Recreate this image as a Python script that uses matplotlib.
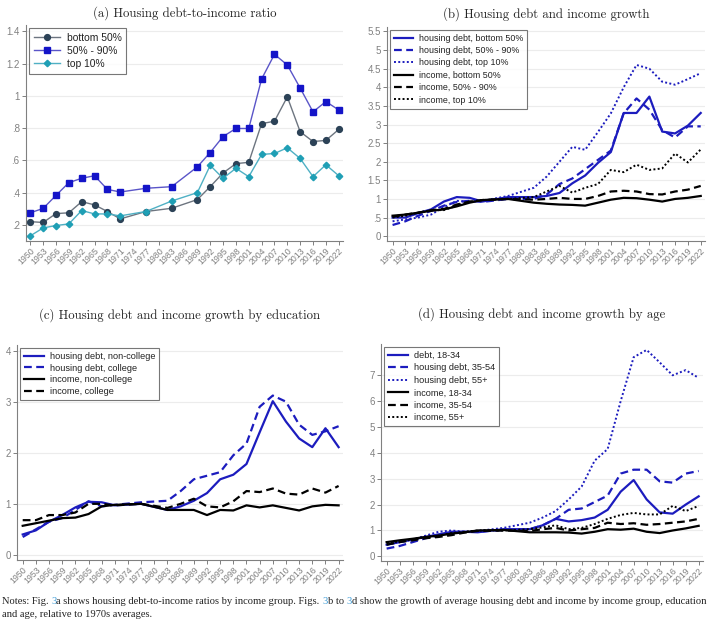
import matplotlib
matplotlib.use("Agg")
import matplotlib.pyplot as plt

# survey years
years_a = [1950, 1953, 1956, 1959, 1962, 1965, 1968, 1971, 1977, 1983, 1989,
           1992, 1995, 1998, 2001, 2004, 2007, 2010, 2013, 2016, 2019, 2022]
years = [1950, 1953, 1956, 1959, 1962, 1965, 1968, 1971, 1977, 1983, 1986, 1989,
         1992, 1995, 1998, 2001, 2004, 2007, 2010, 2013, 2016, 2019, 2022]
tick_years = list(range(1950, 2023, 3))

# (a) debt-to-income ratio
ratio_bottom50 = [0.22, 0.215, 0.27, 0.275, 0.344, 0.324, 0.283, 0.237, 0.283, 0.303, 0.357,
                  0.437, 0.522, 0.58, 0.588, 0.828, 0.843, 0.994, 0.778, 0.717, 0.724, 0.792]
ratio_mid40 = [0.275, 0.302, 0.383, 0.462, 0.489, 0.505, 0.42, 0.404, 0.427, 0.437, 0.56,
               0.649, 0.748, 0.798, 0.798, 1.105, 1.258, 1.192, 1.049, 0.901, 0.965, 0.913]
ratio_top10 = [0.132, 0.181, 0.196, 0.206, 0.289, 0.268, 0.268, 0.256, 0.283, 0.348, 0.4,
               0.569, 0.489, 0.551, 0.499, 0.637, 0.643, 0.678, 0.612, 0.499, 0.573, 0.505]

# (b) by income group
debt_b50 = [0.5, 0.5, 0.62, 0.72, 0.93, 1.05, 1.03, 0.93, 1.05, 1.05, 1.08, 1.16,
            1.42, 1.63, 1.97, 2.26, 3.31, 3.31, 3.75, 2.81, 2.76, 2.97, 3.31]
debt_m40 = [0.3, 0.4, 0.55, 0.68, 0.82, 0.92, 0.95, 0.92, 1.0, 1.0, 1.12, 1.4,
            1.55, 1.8, 2.05, 2.3, 3.3, 3.7, 3.4, 2.85, 2.65, 2.95, 2.95]
debt_t10 = [0.4, 0.45, 0.5, 0.58, 0.78, 0.95, 0.92, 0.95, 1.08, 1.3, 1.6, 2.0,
            2.4, 2.32, 2.8, 3.3, 4.0, 4.6, 4.5, 4.15, 4.07, 4.22, 4.38]
inc_b50 = [0.55, 0.58, 0.63, 0.68, 0.72, 0.8, 0.9, 0.97, 1.0, 0.9, 0.87, 0.85,
           0.84, 0.82, 0.9, 0.98, 1.03, 1.02, 0.98, 0.93, 1.0, 1.03, 1.08]
inc_m40 = [0.52, 0.58, 0.63, 0.7, 0.73, 0.85, 0.93, 0.97, 1.0, 0.98, 1.0, 1.03,
           1.0, 1.0, 1.08, 1.2, 1.22, 1.2, 1.13, 1.12, 1.2, 1.25, 1.35]
inc_t10 = [0.5, 0.55, 0.63, 0.7, 0.7, 0.82, 0.93, 0.97, 1.0, 1.05, 1.2, 1.35,
           1.17, 1.3, 1.4, 1.78, 1.72, 1.92, 1.78, 1.82, 2.22, 1.98, 2.33]

# (c) by education
debt_noncol = [0.4, 0.48, 0.65, 0.78, 0.93, 1.04, 1.03, 0.97, 1.0, 0.88, 0.95, 1.06,
               1.21, 1.48, 1.57, 1.78, 2.4, 3.01, 2.61, 2.28, 2.11, 2.48, 2.11]
debt_col = [0.35, 0.5, 0.65, 0.72, 0.88, 1.05, 0.95, 0.98, 1.03, 1.06, 1.25, 1.48,
            1.55, 1.62, 1.95, 2.18, 2.9, 3.12, 3.0, 2.55, 2.35, 2.42, 2.52]
inc_noncol = [0.57, 0.62, 0.67, 0.72, 0.73, 0.8, 0.95, 0.98, 1.0, 0.88, 0.88, 0.88,
              0.78, 0.88, 0.87, 0.97, 0.93, 0.97, 0.92, 0.87, 0.95, 0.98, 0.97]
inc_col = [0.68, 0.68, 0.78, 0.78, 0.83, 1.0, 1.0, 0.97, 1.0, 0.92, 1.0, 1.1,
           0.95, 0.93, 1.05, 1.25, 1.23, 1.3, 1.2, 1.18, 1.3, 1.22, 1.35]

# (d) by age
debt_young = [0.45, 0.55, 0.65, 0.75, 0.85, 0.95, 0.95, 0.93, 1.05, 1.05, 1.2, 1.45,
              1.35, 1.4, 1.5, 1.8, 2.5, 2.95, 2.2, 1.7, 1.65, 2.0, 2.32]
debt_mid = [0.3, 0.4, 0.55, 0.7, 0.8, 0.92, 0.95, 0.95, 1.02, 1.05, 1.2, 1.45,
            1.8, 1.85, 2.1, 2.35, 3.2, 3.35, 3.35, 2.9, 2.85, 3.2, 3.3]
debt_old = [0.45, 0.55, 0.65, 0.8, 0.95, 1.0, 0.95, 0.98, 1.1, 1.3, 1.5, 1.75,
            2.2, 2.7, 3.7, 4.15, 6.0, 7.7, 7.98, 7.5, 7.0, 7.2, 6.9]
inc_young = [0.55, 0.62, 0.68, 0.75, 0.8, 0.88, 0.93, 1.0, 1.02, 0.93, 0.93, 0.93,
             0.92, 0.88, 0.95, 1.05, 1.03, 1.07, 0.95, 0.9, 1.0, 1.08, 1.18]
inc_mid = [0.45, 0.55, 0.62, 0.7, 0.75, 0.82, 0.92, 0.98, 1.0, 0.98, 1.05, 1.1,
           1.0, 1.05, 1.1, 1.3, 1.25, 1.28, 1.22, 1.25, 1.3, 1.35, 1.45]
inc_old = [0.5, 0.58, 0.65, 0.75, 0.8, 0.9, 0.95, 1.0, 1.0, 1.05, 1.12, 1.2,
           1.05, 1.1, 1.25, 1.45, 1.6, 1.68, 1.62, 1.62, 1.95, 1.75, 1.95]

BLUE = '#1c1cbe'
BLACK = '#000000'
SANS = 'Liberation Sans'
TICKC = '#3a3a3a'
DASH = (0, (3.5, 2))
DOT = (0, (1, 1.2))


def fmt(v):
    s = ('%g' % v)
    if s.startswith('0.'):
        s = s[1:]
    return s


def style_axes(ax, yticks, ylim, title, pad):
    ax.set_xlim(1948.7, 2023)
    ax.set_ylim(*ylim)
    ax.set_xticks(tick_years)
    ax.set_xticklabels([str(y) for y in tick_years], rotation=45, ha='right',
                       rotation_mode='anchor', fontsize=6.3, family=SANS, color=TICKC)
    ax.set_yticks(yticks)
    ax.set_yticklabels([fmt(v) for v in yticks], fontsize=7, family=SANS, color=TICKC)
    for s in ['top', 'right']:
        ax.spines[s].set_visible(False)
    for s in ['left', 'bottom']:
        ax.spines[s].set_color('#808080')
        ax.spines[s].set_linewidth(0.8)
    ax.tick_params(colors='#808080', length=3, width=0.7, pad=1.5)
    ax.tick_params(axis='x', pad=1)
    ax.grid(axis='y', color='#ececec', linewidth=0.8)
    ax.set_axisbelow(True)
    ax.set_title(title, family='cmr10', fontsize=9.2, color='#222222', pad=pad)


def add_legend(ax, handlelength=2.2, fontsize=6.4, spacing=0.25):
    leg = ax.legend(loc='upper left', bbox_to_anchor=(0.0, 1.0), prop={'family': SANS, 'size': fontsize},
                    frameon=True, fancybox=False, edgecolor='#555555', borderpad=0.45,
                    handlelength=handlelength, labelspacing=spacing, handletextpad=0.6,
                    borderaxespad=0.3)
    leg.get_frame().set_linewidth(0.8)
    for t in leg.get_texts():
        t.set_color('#222222')
    return leg


fig = plt.figure(figsize=(7.11, 6.2), dpi=100)
W, H = 711.0, 620.0


def axes_px(l, t, r, b):
    return fig.add_axes([l / W, 1 - b / H, (r - l) / W, (b - t) / H])


# (a)
ax_a = axes_px(26, 25, 343, 241)
ax_a.plot(years_a, ratio_bottom50, color='#6d7580', lw=1.0, marker='o', ms=4.2,
          mfc='#2c4257', mec='#2c4257', label='bottom 50%')
ax_a.plot(years_a, ratio_mid40, color='#5a55c8', lw=1.0, marker='s', ms=4.0,
          mfc='#1414c8', mec='#1414c8', label='50% - 90%')
ax_a.plot(years_a, ratio_top10, color='#4fb0c4', lw=1.0, marker='D', ms=3.3,
          mfc='#1f9fb5', mec='#1f9fb5', label='top 10%')
style_axes(ax_a, [0.2, 0.4, 0.6, 0.8, 1.0, 1.2, 1.4], (0.1, 1.44),
           '(a) Housing debt-to-income ratio', pad=6)
ax_a.set_xlim(1949, 2023)
add_legend(ax_a, handlelength=2.6, fontsize=7.4, spacing=0.3)

# (b)
ax_b = axes_px(387, 27, 705, 241)
ax_b.plot(years, debt_b50, color=BLUE, lw=1.6, ls='-', label='housing debt, bottom 50%')
ax_b.plot(years, debt_m40, color=BLUE, lw=1.6, ls=DASH, label='housing debt, 50% - 90%')
ax_b.plot(years, debt_t10, color=BLUE, lw=1.4, ls=DOT, label='housing debt, top 10%')
ax_b.plot(years, inc_b50, color=BLACK, lw=1.6, ls='-', label='income, bottom 50%')
ax_b.plot(years, inc_m40, color=BLACK, lw=1.6, ls=DASH, label='income, 50% - 90%')
ax_b.plot(years, inc_t10, color=BLACK, lw=1.4, ls=DOT, label='income, top 10%')
style_axes(ax_b, [0, 0.5, 1, 1.5, 2, 2.5, 3, 3.5, 4, 4.5, 5, 5.5], (-0.13, 5.62),
           '(b) Housing debt and income growth', pad=7)
add_legend(ax_b, spacing=0.38)

# (c)
ax_c = axes_px(17, 345, 343, 560)
ax_c.plot(years, debt_noncol, color=BLUE, lw=1.6, ls='-', label='housing debt, non-college')
ax_c.plot(years, debt_col, color=BLUE, lw=1.6, ls=DASH, label='housing debt, college')
ax_c.plot(years, inc_noncol, color=BLACK, lw=1.6, ls='-', label='income, non-college')
ax_c.plot(years, inc_col, color=BLACK, lw=1.6, ls=DASH, label='income, college')
style_axes(ax_c, [0, 1, 2, 3, 4], (-0.1, 4.11),
           '(c) Housing debt and income growth by education', pad=19)
add_legend(ax_c, fontsize=6.6, spacing=0.3)

# (d)
ax_d = axes_px(381, 344, 703, 561)
ax_d.plot(years, debt_young, color=BLUE, lw=1.6, ls='-', label='debt, 18-34')
ax_d.plot(years, debt_mid, color=BLUE, lw=1.6, ls=DASH, label='housing debt, 35-54')
ax_d.plot(years, debt_old, color=BLUE, lw=1.4, ls=DOT, label='housing debt, 55+')
ax_d.plot(years, inc_young, color=BLACK, lw=1.6, ls='-', label='income, 18-34')
ax_d.plot(years, inc_mid, color=BLACK, lw=1.6, ls=DASH, label='income, 35-54')
ax_d.plot(years, inc_old, color=BLACK, lw=1.4, ls=DOT, label='income, 55+')
style_axes(ax_d, [0, 1, 2, 3, 4, 5, 6, 7], (-0.18, 8.21),
           '(d) Housing debt and income growth by age', pad=19)
add_legend(ax_d, fontsize=6.6, spacing=0.38)

# notes below the panels
note_font = dict(family='Liberation Serif', fontsize=7.6, color='#222222')
link = '#3b9ad6'
pieces = [("Notes: Fig. ", None), ("3", link), ("a shows housing debt-to-income ratios by income group. Figs. ", None),
          ("3", link), ("b to ", None), ("3", link),
          ("d show the growth of average housing debt and income by income group, education", None)]
prev = fig.text(2 / W, 1 - 604 / H, pieces[0][0], va='baseline', **note_font)
for txt, col in pieces[1:]:
    kw = dict(note_font)
    if col:
        kw['color'] = col
    prev = ax_a.annotate(txt, xy=(1, 0), xycoords=prev, va='bottom', ha='left',
                         annotation_clip=False, **kw)
fig.text(2 / W, 1 - 617 / H, "and age, relative to 1970s averages.", va='baseline', **note_font)

fig.savefig('out.png', dpi=100)
